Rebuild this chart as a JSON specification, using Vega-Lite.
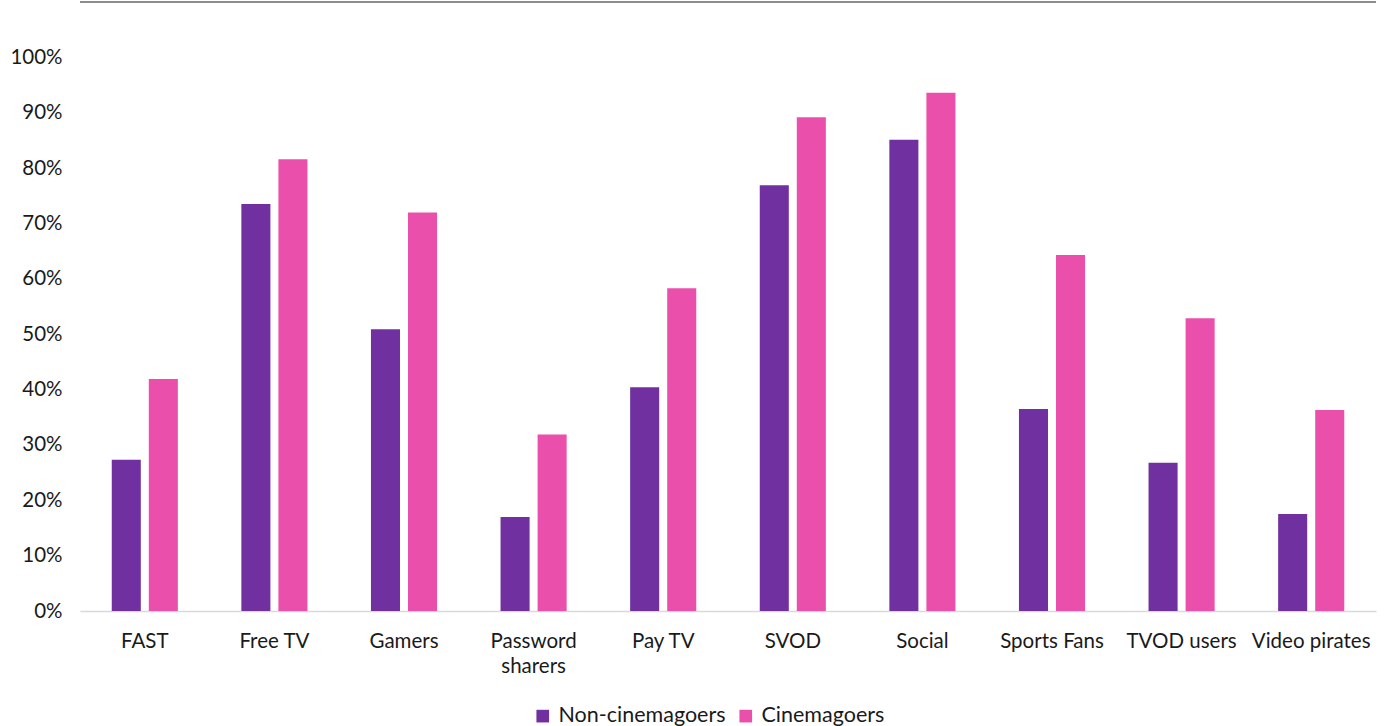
{
  "$schema": "https://vega.github.io/schema/vega-lite/v6.json",
  "autosize": "none",
  "width": 1296,
  "height": 609,
  "padding": {"left": 80, "top": 2, "right": 13, "bottom": 115},
  "background": "white",
  "config": {
    "view": {"stroke": null},
    "font": "Lato",
    "axis": {"labelFont": "Lato", "labelColor": "#1a1a1a", "labelFontSize": 20.5}
  },
  "data": {
    "values": [
      {"cat": "FAST", "group": "Non-cinemagoers", "value": 0.273},
      {"cat": "FAST", "group": "Cinemagoers", "value": 0.419},
      {"cat": "Free TV", "group": "Non-cinemagoers", "value": 0.735},
      {"cat": "Free TV", "group": "Cinemagoers", "value": 0.816},
      {"cat": "Gamers", "group": "Non-cinemagoers", "value": 0.509},
      {"cat": "Gamers", "group": "Cinemagoers", "value": 0.72},
      {"cat": "Password sharers", "group": "Non-cinemagoers", "value": 0.17},
      {"cat": "Password sharers", "group": "Cinemagoers", "value": 0.319},
      {"cat": "Pay TV", "group": "Non-cinemagoers", "value": 0.404},
      {"cat": "Pay TV", "group": "Cinemagoers", "value": 0.583},
      {"cat": "SVOD", "group": "Non-cinemagoers", "value": 0.769},
      {"cat": "SVOD", "group": "Cinemagoers", "value": 0.892},
      {"cat": "Social", "group": "Non-cinemagoers", "value": 0.851},
      {"cat": "Social", "group": "Cinemagoers", "value": 0.936},
      {"cat": "Sports Fans", "group": "Non-cinemagoers", "value": 0.365},
      {"cat": "Sports Fans", "group": "Cinemagoers", "value": 0.643},
      {"cat": "TVOD users", "group": "Non-cinemagoers", "value": 0.268},
      {"cat": "TVOD users", "group": "Cinemagoers", "value": 0.529},
      {"cat": "Video pirates", "group": "Non-cinemagoers", "value": 0.175},
      {"cat": "Video pirates", "group": "Cinemagoers", "value": 0.363}
    ]
  },
  "layer": [
    {
      "mark": {"type": "bar"},
      "encoding": {
        "x": {
          "field": "cat",
          "type": "nominal",
          "sort": null,
          "scale": {"paddingInner": 0.49, "paddingOuter": 0.245},
          "axis": {
            "title": null,
            "labelAngle": 0,
            "ticks": false,
            "domainColor": "#d9d9d9",
            "domainWidth": 1.5,
            "labelPadding": 20,
            "labelLineHeight": 25,
            "labelExpr": "datum.label == 'Password sharers' ? ['Password', 'sharers'] : datum.label"
          }
        },
        "xOffset": {
          "field": "group",
          "type": "nominal",
          "sort": ["Non-cinemagoers", "Cinemagoers"],
          "scale": {"paddingInner": 0.216, "paddingOuter": 0}
        },
        "y": {
          "field": "value",
          "type": "quantitative",
          "scale": {"domain": [0, 1.1], "nice": false},
          "axis": {
            "title": null,
            "values": [0, 0.1, 0.2, 0.3, 0.4, 0.5, 0.6, 0.7, 0.8, 0.9, 1.0],
            "format": ".0%",
            "grid": false,
            "domain": false,
            "ticks": false,
            "labelPadding": 18
          }
        },
        "color": {
          "field": "group",
          "type": "nominal",
          "sort": ["Non-cinemagoers", "Cinemagoers"],
          "scale": {"domain": ["Non-cinemagoers", "Cinemagoers"], "range": ["#7030A0", "#EA4FAC"]},
          "legend": {
            "title": null,
            "orient": "none",
            "direction": "horizontal",
            "legendX": 452,
            "legendY": 703,
            "symbolType": "square",
            "symbolSize": 160,
            "symbolStrokeWidth": 0,
            "labelFont": "Lato",
            "labelFontSize": 21.5,
            "labelLimit": 400,
            "labelColor": "#1a1a1a",
            "labelOffset": 5,
            "columnPadding": 9
          }
        }
      }
    },
    {
      "mark": {"type": "rule", "color": "#8c8c8c", "strokeWidth": 2},
      "encoding": {"y": {"datum": 1.1}}
    }
  ]
}
